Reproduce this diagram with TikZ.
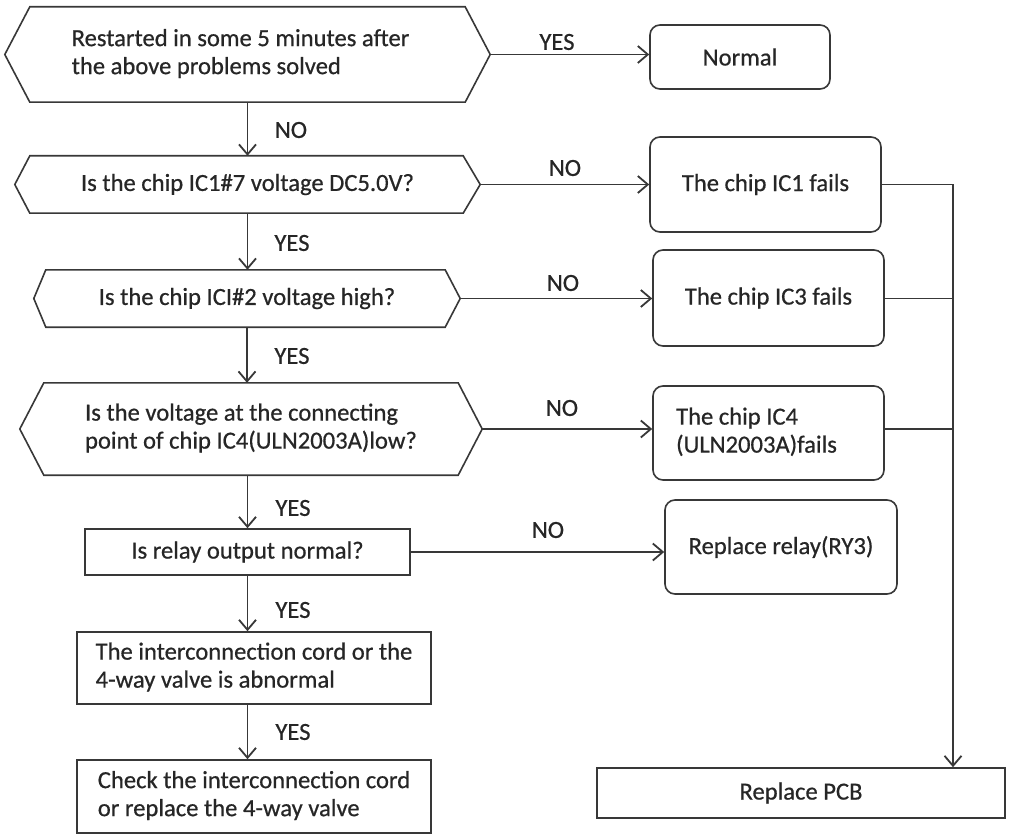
\documentclass[tikz,border=0pt]{standalone}
\usepackage{fontspec}
\setmainfont{Carlito}[FakeBold=0.6]
\usetikzlibrary{arrows.meta,calc}
\definecolor{ln}{HTML}{383838}
\definecolor{txt}{HTML}{262626}
\newcommand\hexdraw[3]{\draw[line width=1.6pt, draw=ln] (#1.west) -- ([xshift=#2]#1.north west) -- ([xshift=-#3]#1.north east) -- (#1.east) -- ([xshift=-#3]#1.south east) -- ([xshift=#2]#1.south west) -- cycle;}
\newcommand\twolines[2]{\begin{tabular}{@{}l@{}}#1\\#2\end{tabular}}
\begin{document}
\begin{tikzpicture}[x=1pt,y=-1pt,
  every node/.style={font=\fontsize{24.6}{28}\selectfont, text=txt},
  hexnode/.style={inner sep=0pt, draw=none},
  sqbox/.style={draw=ln, line width=1.6pt, inner sep=0pt},
  rbox/.style={draw=ln, line width=1.6pt, rounded corners=10pt, inner sep=0pt},
  arr/.style={draw=ln, line width=1.8pt, -{Straight Barb[length=10pt,width=17pt,line width=1.8pt]}},
  lin/.style={draw=ln, line width=1.8pt},
  lbl/.style={inner sep=0pt}
]
\useasboundingbox[fill=white] (0,0) rectangle (1012,837);

% decision hexagons
\node[hexnode, minimum width=485pt, minimum height=95pt] (h1) at (247.5,54.5) {\twolines{Restarted in some 5 minutes after}{the above problems solved}\kern14pt};
\hexdraw{h1}{25pt}{25pt}
\node[hexnode, minimum width=465pt, minimum height=57pt] (h2) at (247.5,184.5) {Is the chip IC1\#7 voltage DC5.0V?};
\hexdraw{h2}{15pt}{17pt}
\node[hexnode, minimum width=426pt, minimum height=57pt] (h3) at (247,298.5) {Is the chip ICI\#2 voltage high?};
\hexdraw{h3}{12pt}{15pt}
\node[hexnode, minimum width=462pt, minimum height=92pt] (h4) at (251,429) {\twolines{Is the voltage at the connecting}{point of chip IC4(ULN2003A)low?}};
\hexdraw{h4}{24pt}{24pt}

% left column boxes
\node[sqbox, minimum width=325pt, minimum height=46pt] (relay) at (247.5,552) {Is relay output normal?};
\node[sqbox, minimum width=354pt, minimum height=72pt] (b6) at (254,668) {\twolines{The interconnection cord or the}{4-way valve is abnormal}};
\node[sqbox, minimum width=354pt, minimum height=73pt] (b7) at (254,796.5) {\twolines{Check the interconnection cord}{or replace the 4-way valve}};

% right column boxes
\node[rbox, minimum width=180pt, minimum height=64pt] (normal) at (740,57) {Normal};
\node[rbox, minimum width=231pt, minimum height=95pt] (ic1) at (765.5,184.5) {The chip IC1 fails};
\node[rbox, minimum width=231pt, minimum height=96pt] (ic3) at (768.5,298) {The chip IC3 fails};
\node[rbox, minimum width=231pt, minimum height=94pt] (ic4) at (768.5,433) {\twolines{The chip IC4}{(ULN2003A)fails}\kern24pt};
\node[rbox, minimum width=232pt, minimum height=94pt] (ry) at (781,547) {Replace relay(RY3)};
\node[sqbox, minimum width=408pt, minimum height=50pt] (pcb) at (801,793) {Replace PCB};

% connectors
\draw[arr] (h1.east) -- (h1.east -| normal.west);
\draw[arr] (h1.south) -- (h2.north);
\draw[arr] (h2.east) -- (h2.east -| ic1.west);
\draw[arr] (h2.south) -- (h2.south |- h3.north);
\draw[arr] (h3.east) -- (h3.east -| ic3.west);
\draw[arr] (h3.south) -- (h3.south |- h4.north);
\draw[arr] (h4.east) -- (h4.east -| ic4.west);
\draw[arr] (h4.south -| relay.north) -- (relay.north);
\draw[arr] (relay.east) -- (relay.east -| ry.west);
\draw[arr] (relay.south) -- (relay.south |- b6.north);
\draw[arr] (relay.south |- b6.south) -- (relay.south |- b7.north);

\coordinate (bus) at (953,185);
\draw[lin] (ic1.east) -- (ic1.east -| bus);
\draw[lin] (ic3.east |- h3.east) -- (h3.east -| bus);
\draw[lin] (h4.east -| ic4.east) -- (h4.east -| bus);
\draw[arr] (ic1.east -| bus) -- (bus |- pcb.north);

% labels
\node[lbl] (l1) at (557,42) {YES};
\node[lbl] (l2) at (291,130) {NO};
\node[lbl] (l3) at (565,168) {NO};
\node[lbl] (l4) at (292,243) {YES};
\node[lbl] (l5) at (563,283) {NO};
\node[lbl] (l6) at (292,356) {YES};
\node[lbl] (l7) at (562,408) {NO};
\node[lbl] (l8) at (293,508) {YES};
\node[lbl] (l9) at (548,530) {NO};
\node[lbl] (l10) at (293,610) {YES};
\node[lbl] (l11) at (293,732) {YES};
\end{tikzpicture}
\end{document}
